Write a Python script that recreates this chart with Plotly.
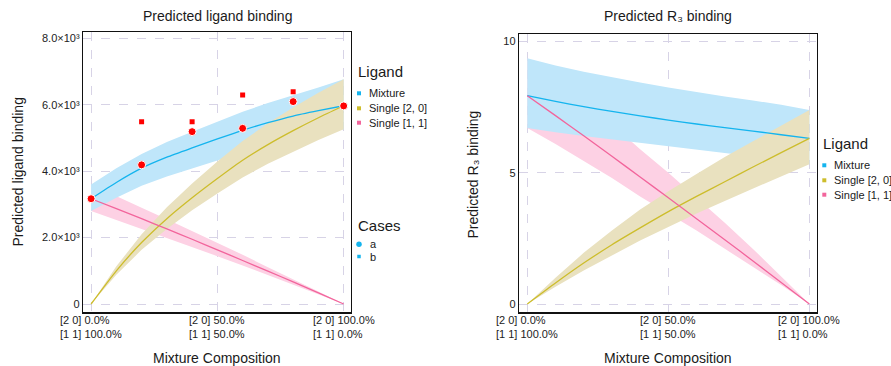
import plotly.graph_objects as go

# ---------------- data ----------------
x_comp = [0.0, 0.1, 0.2, 0.3, 0.4, 0.5, 0.6, 0.7, 0.8, 0.9, 1.0]

# Predicted ligand binding
lig_mix = [3170, 3660, 4090, 4420, 4700, 4970, 5230, 5460, 5660, 5820, 5970]
lig_mix_hi = [3600, 4090, 4520, 4880, 5190, 5500, 5790, 6050, 6280, 6520, 6770]
lig_mix_lo = [2800, 3200, 3560, 3840, 4080, 4320, 4560, 4770, 4950, 5110, 5260]
lig_20 = [0, 1000, 1850, 2570, 3200, 3780, 4330, 4800, 5220, 5610, 5970]
lig_20_hi = [0, 1134, 2100, 2915, 3630, 4290, 4910, 5440, 5920, 6360, 6770]
lig_20_lo = [0, 880, 1630, 2260, 2820, 3330, 3810, 4220, 4590, 4940, 5260]
lig_11 = [3170, 2870, 2570, 2260, 1950, 1630, 1310, 990, 665, 335, 0]
lig_11_hi = [3600, 3240, 2900, 2550, 2200, 1840, 1480, 1110, 750, 380, 0]
lig_11_lo = [2800, 2530, 2260, 1990, 1720, 1440, 1160, 870, 585, 295, 0]

case_a_x = [0.0, 0.2, 0.4, 0.6, 0.8, 1.0]
case_a = [3170, 4190, 5190, 5290, 6095, 5965]
case_b_x = [0.2, 0.4, 0.6, 0.8]
case_b = [5490, 5490, 6295, 6395]

# Predicted R3 binding
r3_mix = [7.94, 7.72, 7.52, 7.34, 7.17, 7.01, 6.86, 6.72, 6.59, 6.45, 6.31]
r3_mix_hi = [9.37, 9.09, 8.85, 8.64, 8.44, 8.25, 8.07, 7.91, 7.76, 7.59, 7.39]
r3_mix_lo = [6.71, 6.55, 6.40, 6.26, 6.12, 6.00, 5.86, 5.74, 5.62, 5.49, 5.33]
r3_20 = [0.0, 0.80, 1.56, 2.26, 2.90, 3.52, 4.10, 4.66, 5.22, 5.77, 6.31]
r3_20_hi = [0.0, 1.00, 1.95, 2.80, 3.60, 4.30, 4.95, 5.60, 6.20, 6.80, 7.39]
r3_20_lo = [0.0, 0.66, 1.28, 1.85, 2.42, 2.95, 3.45, 3.93, 4.40, 4.87, 5.33]
r3_11 = [7.94, 7.18, 6.41, 5.63, 4.84, 4.05, 3.25, 2.45, 1.64, 0.82, 0.0]
r3_11_hi = [9.37, 8.60, 7.75, 6.85, 5.90, 5.00, 4.05, 3.10, 2.10, 1.05, 0.0]
r3_11_lo = [6.71, 6.10, 5.45, 4.80, 4.10, 3.45, 2.80, 2.10, 1.42, 0.72, 0.0]

lig_tickvals = [0, 2000, 4000, 6000, 8000]
lig_ticktext = ["0", "2.0×10³", "4.0×10³", "6.0×10³", "8.0×10³"]
r3_tickvals = [0, 5, 10]
r3_ticktext = ["0", "5", "10"]
x_tickvals = [0.0, 0.5, 1.0]
x_tick_line1 = ["[2 0] 0.0%", "[2 0] 50.0%", "[2 0] 100.0%"]
x_tick_line2 = ["[1 1] 100.0%", "[1 1] 50.0%", "[1 1] 0.0%"]

ligand_names = ["Mixture", "Single [2, 0]", "Single [1, 1]"]
case_names = ["a", "b"]

# ---------------- style ----------------
FONT = "Liberation Sans, Arial, Helvetica, sans-serif"
TXT = "#1a1a1a"
LINE_COL = {"Mixture": "#14b4ee", "Single [2, 0]": "#cdbd2c", "Single [1, 1]": "#f2659c"}
FILL_COL = {"Mixture": "#bfe6fa", "Single [2, 0]": "#e9e1bf", "Single [1, 1]": "#fdd1e4"}
GRID = "#d7d3e6"
W, H = 891, 366


def px(x):
    return x / W


def py(y):
    return 1 - y / H


fig = go.Figure()


def band(xa, ya, x, hi, lo, name):
    fig.add_trace(go.Scatter(
        x=list(x) + list(x)[::-1], y=list(hi) + list(lo)[::-1],
        xaxis=xa, yaxis=ya, mode="lines", fill="toself",
        fillcolor=FILL_COL[name], line=dict(width=0), hoverinfo="skip",
        showlegend=False))


def line(xa, ya, x, y, name):
    fig.add_trace(go.Scatter(
        x=x, y=y, xaxis=xa, yaxis=ya, mode="lines", name=name,
        line=dict(color=LINE_COL[name], width=1.3, shape="spline", smoothing=0.6),
        showlegend=False))


# left panel
band("x", "y", x_comp, lig_11_hi, lig_11_lo, "Single [1, 1]")
band("x", "y", x_comp, lig_mix_hi, lig_mix_lo, "Mixture")
band("x", "y", x_comp, lig_20_hi, lig_20_lo, "Single [2, 0]")
line("x", "y", x_comp, lig_mix, "Mixture")
line("x", "y", x_comp, lig_20, "Single [2, 0]")
line("x", "y", x_comp, lig_11, "Single [1, 1]")
fig.add_trace(go.Scatter(x=case_b_x, y=case_b, xaxis="x", yaxis="y", mode="markers",
                         name="b", marker=dict(symbol="square", size=5, color="#ff0000"),
                         showlegend=False))
fig.add_trace(go.Scatter(x=case_a_x, y=case_a, xaxis="x", yaxis="y", mode="markers",
                         name="a", marker=dict(symbol="circle", size=8, color="#ff0000",
                                               line=dict(color="white", width=1)),
                         showlegend=False))

# right panel
band("x2", "y2", x_comp, r3_11_hi, r3_11_lo, "Single [1, 1]")
band("x2", "y2", x_comp, r3_mix_hi, r3_mix_lo, "Mixture")
band("x2", "y2", x_comp, r3_20_hi, r3_20_lo, "Single [2, 0]")
line("x2", "y2", x_comp, r3_mix, "Mixture")
line("x2", "y2", x_comp, r3_20, "Single [2, 0]")
line("x2", "y2", x_comp, r3_11, "Single [1, 1]")

axis_common = dict(showline=True, linecolor="#111111", linewidth=1.2, mirror=True,
                   showgrid=True, gridcolor=GRID, griddash="dash", gridwidth=1,
                   zeroline=False, ticks="", fixedrange=True)

fig.update_layout(
    width=W, height=H,
    margin=dict(l=0, r=0, t=0, b=0),
    paper_bgcolor="white", plot_bgcolor="white",
    font=dict(family=FONT, color=TXT, size=11),
    showlegend=False,
    hovermode=False,
    xaxis=dict(domain=[px(83), px(351)], range=[-0.032, 1.029], anchor="y",
               tickvals=x_tickvals, showticklabels=False, **axis_common),
    yaxis=dict(domain=[py(312.3), py(31.7)], range=[-250, 8200], anchor="x",
               tickvals=lig_tickvals, ticktext=lig_ticktext,
               tickfont=dict(size=11, color="#222222"), **axis_common),
    xaxis2=dict(domain=[px(519), px(817)], range=[-0.0294, 1.027], anchor="y2",
                tickvals=x_tickvals, showticklabels=False, **axis_common),
    yaxis2=dict(domain=[py(312.3), py(34)], range=[-0.316, 10.29], anchor="x2",
                tickvals=r3_tickvals, ticktext=r3_ticktext,
                tickfont=dict(size=11, color="#222222"), **axis_common),
)

ann = []
# x tick labels: two left-aligned lines centred on each tick
for xa in ["x", "x2"]:
    for v, t1, t2 in zip(x_tickvals, x_tick_line1, x_tick_line2):
        ann.append(dict(x=v, y=py(327.2), xref=xa, yref="paper",
                        text=t1 + "<br>" + t2, align="left",
                        showarrow=False, xanchor="center", yanchor="middle",
                        font=dict(size=11, color="#222222")))

# titles
for cx, txt in [(217, "Predicted ligand binding"), (668, "Predicted R₃ binding")]:
    ann.append(dict(x=px(cx), y=py(16), xref="paper", yref="paper", text=txt,
                    showarrow=False, xanchor="center", yanchor="middle",
                    font=dict(size=14, color=TXT)))
# axis titles
for cx in [217, 668]:
    ann.append(dict(x=px(cx), y=py(358), xref="paper", yref="paper",
                    text="Mixture Composition",
                    showarrow=False, xanchor="center", yanchor="middle",
                    font=dict(size=14, color=TXT)))
for cx, cy, txt in [(17, 172.5, "Predicted ligand binding"),
                    (473, 174.5, "Predicted R₃ binding")]:
    ann.append(dict(x=px(cx), y=py(cy), xref="paper", yref="paper", text=txt,
                    showarrow=False, xanchor="center", yanchor="middle", textangle=-90,
                    font=dict(size=14, color=TXT)))

shapes = []


def add_legend(left, title, title_y, item_ys, names, colors, kinds, sizes, text_dx):
    ann.append(dict(x=px(left), y=py(title_y), xref="paper", yref="paper",
                    text=title, showarrow=False, xanchor="left", yanchor="middle",
                    font=dict(size=15, color=TXT)))
    for yy, nm, col, kind, sz in zip(item_ys, names, colors, kinds, sizes):
        mx = left + 3.3
        shapes.append(dict(type="circle" if kind == "circle" else "rect",
                           xref="paper", yref="paper",
                           xsizemode="pixel", ysizemode="pixel",
                           xanchor=px(mx), yanchor=py(yy),
                           x0=-sz / 2, x1=sz / 2, y0=-sz / 2, y1=sz / 2,
                           fillcolor=col, line=dict(width=0)))
        ann.append(dict(x=px(left + text_dx), y=py(yy), xref="paper", yref="paper",
                        text=nm, showarrow=False, xanchor="left", yanchor="middle",
                        font=dict(size=11, color=TXT)))


lig_cols = [LINE_COL[n] for n in ligand_names]
add_legend(355.7, "Ligand", 71, [93.3, 108.3, 122.7], ligand_names, lig_cols,
           ["rect"] * 3, [4, 4, 4], 11)
add_legend(355.7, "Cases", 225, [244.3, 256.5], case_names, ["#14b4ee", "#14b4ee"],
           ["circle", "rect"], [5.5, 3.5], 12)
add_legend(821, "Ligand", 143, [165.3, 180.3, 194.7], ligand_names, lig_cols,
           ["rect"] * 3, [4, 4, 4], 11)

fig.update_layout(annotations=ann, shapes=shapes)
fig.write_html(
    "out.html",
    config={"displayModeBar": False, "staticPlot": True},
    post_script="document.body.style.margin='0px';"
                "document.documentElement.style.overflow='hidden';",
)
